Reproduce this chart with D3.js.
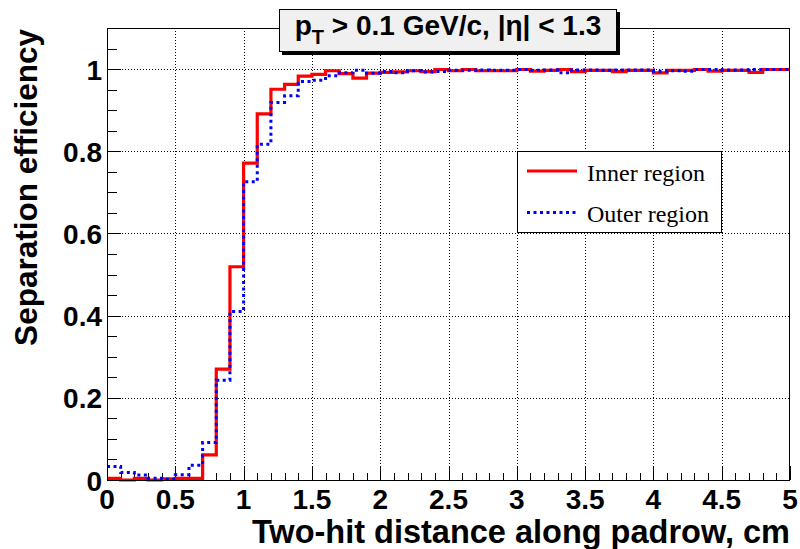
<!DOCTYPE html>
<html><head><meta charset="utf-8">
<script src="https://cdn.jsdelivr.net/npm/d3@7"></script>
<style>body{margin:0;background:#fff}svg{display:block}</style>
</head><body>
<svg id="c" width="800" height="549"></svg>
<script>
// ---- data ----
const binEdges = d3.range(0, 5.0001, 0.1).map(v => +v.toFixed(1));
const innerRegion = [0.004,0.000,0.004,0.000,0.003,0.004,0.004,0.061,0.270,0.519,
  0.771,0.891,0.951,0.963,0.983,0.987,0.996,0.989,0.978,0.990,
  0.992,0.993,0.996,0.994,0.999,0.996,0.999,0.996,0.996,0.996,
  0.999,0.995,0.997,0.999,0.994,0.997,0.997,0.994,0.997,0.997,
  0.991,0.997,0.997,0.999,0.995,0.997,0.997,0.992,0.999,0.999];
const outerRegion = [0.033,0.018,0.012,0.004,0.002,0.013,0.036,0.091,0.243,0.410,
  0.726,0.817,0.919,0.935,0.970,0.973,0.984,0.991,0.997,0.990,
  0.994,0.991,0.996,0.993,0.994,0.997,0.997,0.998,0.997,0.997,
  0.999,0.997,0.998,0.991,0.998,0.998,0.997,0.998,0.998,0.998,
  0.995,0.996,0.995,0.999,0.999,0.998,0.998,0.999,0.999,0.999];
const xTicks = [0,0.5,1,1.5,2,2.5,3,3.5,4,4.5,5];
const xTickLabels = ["0","0.5","1","1.5","2","2.5","3","3.5","4","4.5","5"];
const yTicks = [0,0.2,0.4,0.6,0.8,1];
const yTickLabels = ["0","0.2","0.4","0.6","0.8","1"];
const seriesNames = ["Inner region","Outer region"];
const xTitle = "Two-hit distance along padrow, cm";
const yTitle = "Separation efficiency";

// ---- layout ----
const svg = d3.select("#c");
const L = 107, R = 790, T = 28, B = 480;
const x = d3.scaleLinear().domain([0,5]).range([L,R]);
const y = d3.scaleLinear().domain([0,1.1]).range([B,T]);
const sans = "'Liberation Sans', Arial, Helvetica, sans-serif";
const serif = "'Liberation Serif', 'Times New Roman', serif";

svg.append("rect").attr("width",800).attr("height",549).attr("fill","#fff");

// grid
const grid = svg.append("g").attr("stroke","#000").attr("stroke-width",1).attr("stroke-dasharray","1,2");
xTicks.slice(1,-1).forEach(t => grid.append("line").attr("x1",Math.round(x(t))+0.5).attr("x2",Math.round(x(t))+0.5).attr("y1",T).attr("y2",B));
yTicks.slice(1).forEach(t => grid.append("line").attr("x1",L).attr("x2",R).attr("y1",Math.round(y(t))+0.5).attr("y2",Math.round(y(t))+0.5));

// axes with minor ticks
const xMinor = d3.range(0,5.0001,0.1).map(v=>+v.toFixed(1)).filter(v => !xTicks.includes(v));
const yMinor = d3.range(0,1.1001,0.05).map(v=>+v.toFixed(2)).filter(v => !yTicks.includes(v));
const tickG = svg.append("g").attr("stroke","#000").attr("stroke-width",1);
xTicks.forEach(t => tickG.append("line").attr("x1",Math.round(x(t))+0.5).attr("x2",Math.round(x(t))+0.5).attr("y1",B).attr("y2",B-14));
xMinor.forEach(t => tickG.append("line").attr("x1",Math.round(x(t))+0.5).attr("x2",Math.round(x(t))+0.5).attr("y1",B).attr("y2",B-7));
yTicks.forEach(t => tickG.append("line").attr("x1",L).attr("x2",L+14).attr("y1",Math.round(y(t))+0.5).attr("y2",Math.round(y(t))+0.5));
yMinor.forEach(t => tickG.append("line").attr("x1",L).attr("x2",L+10).attr("y1",Math.round(y(t))+0.5).attr("y2",Math.round(y(t))+0.5));

// histograms (step)
const stepLine = d3.line().x(d=>x(d[0])).y(d=>y(d[1])).curve(d3.curveStepAfter);
function pts(vals){ const p = vals.map((v,i)=>[binEdges[i], v]); p.push([binEdges[vals.length], vals[vals.length-1]]); return p; }
svg.append("path").attr("d",stepLine(pts(innerRegion))).attr("fill","none").attr("stroke","#ff0000").attr("stroke-width",3.2);
svg.append("path").attr("d",stepLine(pts(outerRegion))).attr("fill","none").attr("stroke","#0000ff").attr("stroke-width",3).attr("stroke-dasharray","3,3.5");

// frame
svg.append("rect").attr("x",L+0.5).attr("y",T+0.5).attr("width",R-L-1).attr("height",B-T).attr("fill","none").attr("stroke","#000").attr("stroke-width",1);

// tick labels
const tl = svg.append("g").attr("font-family",sans).attr("font-weight","bold").attr("font-size",28).attr("fill","#000");
xTicks.forEach((t,i) => tl.append("text").attr("x",x(t)).attr("y",509).attr("text-anchor","middle").text(xTickLabels[i]));
yTicks.forEach((t,i) => tl.append("text").attr("x",102).attr("y",y(t)+10.5).attr("text-anchor","end").text(yTickLabels[i]));

// axis titles
svg.append("text").attr("x",R).attr("y",543).attr("text-anchor","end").attr("font-family",sans).attr("font-weight","bold").attr("font-size",32.5).text(xTitle);
svg.append("text").attr("transform","translate(37,29) rotate(-90)").attr("text-anchor","end").attr("font-family",sans).attr("font-weight","bold").attr("font-size",31.5).text(yTitle);

// title box
svg.append("rect").attr("x",282).attr("y",12).attr("width",338).attr("height",43).attr("fill","#000");
svg.append("rect").attr("x",279.5).attr("y",9.5).attr("width",337).attr("height",42).attr("fill","#f0f0f0").attr("stroke","#000").attr("stroke-width",1);
const tt = svg.append("text").attr("x",448).attr("y",35).attr("text-anchor","middle").attr("font-family",sans).attr("font-weight","bold").attr("font-size",28);
tt.append("tspan").text("p");
tt.append("tspan").attr("font-size",20).attr("dy",9).text("T");
tt.append("tspan").attr("dy",-9).text(" > 0.1 GeV/c, |η| < 1.3");

// legend
svg.append("rect").attr("x",517.5).attr("y",151.5).attr("width",204).attr("height",81).attr("fill","#fff").attr("stroke","#000").attr("stroke-width",1);
const legY = [171, 212.5];
const legStyles = [{c:"#ff0000",w:3.2,d:null},{c:"#0000ff",w:3,d:"3,3.5"}];
seriesNames.forEach((n,i) => {
  const ln = svg.append("line").attr("x1",527).attr("x2",577).attr("y1",legY[i]).attr("y2",legY[i]).attr("stroke",legStyles[i].c).attr("stroke-width",legStyles[i].w);
  if (legStyles[i].d) ln.attr("stroke-dasharray",legStyles[i].d);
  svg.append("text").attr("x",587).attr("y",legY[i]+9.5).attr("font-family",serif).attr("font-size",24).text(n);
});
</script>
</body></html>
